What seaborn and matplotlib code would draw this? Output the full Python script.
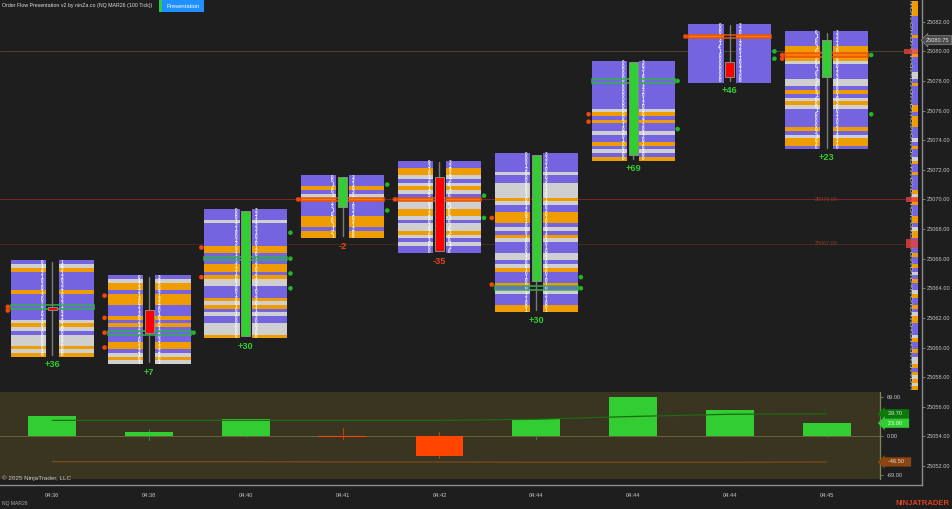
import matplotlib
matplotlib.use("Agg")
import matplotlib.pyplot as plt
from matplotlib.transforms import blended_transform_factory
import numpy as np
import pandas as pd
import seaborn as sns

# ---- data -----------------------------------------------------------------
times = ["04:36", "04:38", "04:40", "04:41", "04:42", "04:44", "04:44", "04:44", "04:45"]
delta_text = ["+36", "+7", "+30", "-2", "-35", "+30", "+69", "+46", "+23"]
delta = [36, 7, 30, -2, -35, 30, 69, 46, 23]
delta_high = [36, 12, 30, 14, 7, 30, 69, 46, 23]
delta_low = [0, -8, -1, -5, -40, -5, 0, 0, -1]

top_price = [25065.75, 25064.75, 25069.25, 25071.5, 25072.5, 25073.0, 25079.25, 25081.75, 25081.25]

# colour of every 0.25 price row from the top of each footprint: P lilac, O orange, G grey
row_kinds = [
    "PGOPPPPPOPPPPPPPGOGPGGGOGO",
    "PGOOPOOOPPPOPOPPPPOOPGOG",
    "PPPGPPPPPPOOPPPOOPOGGPPPOGOPGPPGGGO",
    "PPPOPGOPPPPOOOPOO",
    "PPOOGPGOGPOGGOOGPGGOGPGPP",
    "PPPPPGPPGGGGOGPPOOOPGPOGPPPGGPGOPPPOPGPPPOO",
    "PPPPPPPPPPPPPGOPOPPGPPOPGPO",
    "PPPOPPPPPPPPPPPP",
    "PPPPOOOOGPPPPGGPOPGOGPPPPPOPGOOP",
]
bid_digits = [
    "01221020130201021010000010",
    "012321402130212210212101",
    "00012100230211312100100100101000000",
    "00140102310201121",
    "9310120135201120010201000",
    "0001200000010012041000100001200101000121001",
    "000000000000000051030100100",
    "0000314100000000",
    "01001013001021203100010000021020",
]
ask_digits = [
    "10212032102310210100001000",
    "315041322010301203132102",
    "32112310201201210213210230110200100",
    "32103201021021200",
    "3292320120301001020100120",
    "3321010301201302010001010102100201010021001",
    "303190142012020372012010300",
    "3205132511041300",
    "33213022301231000153002102110210",
]

open_price = [25062.75, 25062.5, 25060.75, 25069.5, 25071.5, 25064.5, 25073.0, 25079.25, 25078.25]
close_price = [25062.5, 25061.0, 25069.25, 25071.5, 25066.5, 25073.0, 25079.25, 25078.25, 25080.75]
wick_high = [25065.75, 25064.75, 25069.25, 25071.5, 25072.5, 25073.0, 25079.25, 25081.75, 25081.25]
wick_low = [25059.5, 25059.0, 25060.75, 25067.5, 25066.5, 25062.5, 25072.75, 25078.0, 25073.5]

poc_price = [25062.75, 25061.0, 25066.0, 25070.0, 25070.0, 25064.0, 25078.0, 25081.0, 25079.75]
poc_bright = [False, False, False, True, True, False, False, True, True]

left_dots = [
    [25062.75, 25062.5],
    [25063.5, 25062.0, 25061.0, 25060.0],
    [25066.75, 25064.75],
    [25070.0],
    [25070.0],
    [25068.75, 25064.25],
    [25075.75, 25075.25],
    [25081.0],
    [25079.75, 25079.5],
]
right_dots = [
    [],
    [25061.0],
    [25067.75, 25066.0, 25065.0, 25064.0],
    [25071.0, 25069.25],
    [25070.25, 25068.75],
    [25064.75, 25064.0],
    [25078.0, 25074.75],
    [25080.0, 25079.5],
    [25079.75, 25075.75],
]

level_prices = [25080.0, 25070.0, 25067.0]
level_text = ["", "25070.00", "25067.00"]
level_colors = ["#4c4238", "#762a1e", "#4c2a1c"]
current_price = 25080.75

profile_kinds = ("OOOOPPPPPOPPPGOPPPPGGPOPPPPPOOPOOOPPPGPOPPGOP"
                 "POPPPPOGOOPPPOOPGOOPPPPOPPOPGPOPPGOPPOPGOOPPPGOPPOPGGOPOGOGO")
profile_digits = ("21032103120310231021302103210321023103210230132"
                  "10320132103210230123102310320132103201320130213021302130210")
profile_top = 25083.25

avg_up = [28, 28, 28, 28, 28, 30, 35, 39, 39.7]
avg_down = [-46, -46, -46, -46.5, -46.5, -47, -47, -47, -46.5]
panel_ticks = [69, 0, -69]

# ---- palette and geometry ---------------------------------------------------
BG = "#1e1e1e"
PANEL = "#393520"
KIND_COLORS = {"P": "#7464e0", "O": "#ef9c00", "G": "#cfcfcf"}
GREEN = "#32cd32"
RED = "#ff0000"
DOWN = "#ff4500"
TEXT = "#c6c6c6"

W, H = 952, 509
ROW = 0.25
PX_X = 96.8      # pixels per bar slot
PX_Y = 14.81     # pixels per point
X0, Y0 = 52.3, 51.3

sns.set_theme(style="dark", rc={
    "figure.facecolor": BG, "axes.facecolor": BG, "savefig.facecolor": BG,
    "axes.grid": False,
})
plt.rcParams["font.family"] = ["Liberation Sans", "DejaVu Sans"]

fig = plt.figure(figsize=(W / 100, H / 100), dpi=100)
FRAME_R, FRAME_B = 922, 485
ax = fig.add_axes([0, 1 - FRAME_B / H, FRAME_R / W, FRAME_B / H])
ax.set_xlim(-X0 / PX_X, (FRAME_R - X0) / PX_X)
ax.set_ylim(25080 - (FRAME_B - Y0) / PX_Y, 25080 + Y0 / PX_Y)

# price levels run behind the footprints
for price, label, col in zip(level_prices, level_text, level_colors):
    ax.plot([-X0 / PX_X, (905 - X0) / PX_X], [price, price], color=col, lw=0.7, zorder=0.5)
    if label:
        ax.text(8.0, price, label, color="#8c3a28", fontsize=3.9, ha="center", va="center", zorder=0.6)

# footprint rows, one strip on each side of the candle
INNER, OUTER = 0.066, 0.428
BOX_W = OUTER - INNER
row_frame = []
for i, kinds in enumerate(row_kinds):
    for j, k in enumerate(kinds):
        row_frame.append((i, top_price[i] - j * ROW, k))
rows = pd.DataFrame(row_frame, columns=["bar", "price", "kind"])
for kind, grp in rows.groupby("kind"):
    for side in (-OUTER, INNER):
        ax.bar(grp["bar"] + side, ROW, width=BOX_W, bottom=grp["price"] - ROW / 2, align="edge",
               color=KIND_COLORS[kind], linewidth=0, zorder=1)

# bid and ask digit columns
DIGIT_SIZE = 3.3
for i in range(len(times)):
    for j, (b, a) in enumerate(zip(bid_digits[i], ask_digits[i])):
        p = top_price[i] - j * ROW
        for off, dg in ((-0.105, b), (0.105, a)):
            ax.text(i + off, p, dg, color="#ffffff", alpha=0.95, fontsize=DIGIT_SIZE, fontweight="bold",
                    ha="center", va="center", zorder=2)

# point-of-control row outlined across the footprint
for i, (p, bright) in enumerate(zip(poc_price, poc_bright)):
    if bright:
        for side in (-OUTER, INNER):
            ax.bar(i + side, ROW, width=BOX_W, bottom=p - ROW / 2, align="edge",
                   color="#ff7a00", linewidth=0, zorder=2.5)
    ax.bar(i, ROW, width=2 * OUTER, bottom=p - ROW / 2, facecolor="none",
           edgecolor="#e8520c" if bright else "#2fb24a", linewidth=1.1, zorder=3)

# candles
for i in range(len(times)):
    up = close_price[i] >= open_price[i]
    ax.plot([i, i], [wick_low[i], wick_high[i]], color="#7a7a7a", lw=1.0, zorder=4)
    lo, hi = sorted((open_price[i], close_price[i]))
    ax.bar(i, hi - lo, width=0.095, bottom=lo, color=GREEN if up else RED,
           edgecolor="#8a8a8a", linewidth=0.7, zorder=5)

# imbalance dots on both flanks
dots = pd.DataFrame(
    [(i - 0.46, p, "left") for i, ps in enumerate(left_dots) for p in ps]
    + [(i + 0.46, p, "right") for i, ps in enumerate(right_dots) for p in ps],
    columns=["x", "price", "side"],
)
sns.scatterplot(data=dots, x="x", y="price", hue="side", palette={"left": "#f0480c", "right": "#22b42a"},
                s=11, linewidth=0, legend=False, ax=ax, zorder=6)

# delta figures under each footprint
for i, (txt, d, kinds) in enumerate(zip(delta_text, delta, row_kinds)):
    bottom = top_price[i] - (len(kinds) - 0.5) * ROW
    ax.annotate(txt, (i, bottom), xytext=(0, -5.8), textcoords="offset points", ha="center", va="center",
                color=GREEN if d > 0 else "#e6481a", fontsize=6.6, fontweight="bold", zorder=6)

# session profile beside the price scale
strip_x = (912 - X0) / PX_X
strip_w = 6 / PX_X
for j, (k, dg) in enumerate(zip(profile_kinds, profile_digits)):
    p = profile_top - j * ROW
    ax.bar(strip_x, ROW, width=strip_w, bottom=p - ROW / 2, align="edge",
           color=KIND_COLORS[k], linewidth=0, zorder=1)
    ax.text((911 - X0) / PX_X, p, dg, color="#e8e8e8", alpha=0.9, fontsize=DIGIT_SIZE, ha="center", va="center", zorder=2)

# level markers on the profile
for price, left_px, half in [(25080.0, 904, 0.17), (25070.0, 906, 0.17), (25067.0, 906, 0.3)]:
    ax.bar((left_px - X0) / PX_X, 2 * half, width=(918 - left_px) / PX_X, bottom=price - half, align="edge",
           color="#e8403c", alpha=0.8, linewidth=0, zorder=3)

# price scale
ax.yaxis.tick_right()
ax.set_yticks(np.arange(25052, 25084, 2))
ax.set_yticklabels([f"{v:.2f}" for v in np.arange(25052, 25084, 2)])
ax.set_xticks(range(len(times)))
ax.set_xticklabels(times)
ax.tick_params(axis="y", colors="#8c8c8c", labelcolor=TEXT, labelsize=4.1, length=2.2, width=0.6, pad=1.0)
ax.tick_params(axis="x", colors="#8c8c8c", labelcolor=TEXT, labelsize=4.1, length=2.2, width=0.6, pad=3.6)
ax.set_xlabel("")
ax.set_ylabel("")
for name, spine in ax.spines.items():
    spine.set_visible(name in ("right", "bottom"))
    spine.set_color("#8c8c8c")
    spine.set_linewidth(1.0)

# last-price callout
ytrans = blended_transform_factory(ax.transAxes, ax.transData)
ax.text(1.0045, current_price, "25080.75", transform=ytrans, color="#e6e6e6", fontsize=4.1, va="center",
        ha="left", zorder=8, clip_on=False,
        bbox=dict(boxstyle="larrow,pad=0.35", facecolor="#4c4c4c", edgecolor="#8a8a8a", linewidth=0.5))

# ---- delta panel ------------------------------------------------------------
PANEL_R, PANEL_T, PANEL_B = 880, 392.3, 479.3
PX_D = 0.558
pax = fig.add_axes([0, 1 - PANEL_B / H, PANEL_R / W, (PANEL_B - PANEL_T) / H], zorder=5)
pax.set_facecolor(PANEL)
pax.set_xlim(-X0 / PX_X, (PANEL_R - X0) / PX_X)
pax.set_ylim(-(PANEL_B - 436) / PX_D, (436 - PANEL_T) / PX_D)
pax.axhline(0, color="#69663e", lw=0.7, zorder=1)

slots = np.arange(len(times))
panel = pd.DataFrame({"slot": slots, "delta": delta,
                      "sign": ["up" if d > 0 else "down" for d in delta]})
sns.barplot(data=panel, x="slot", y="delta", hue="sign", palette={"up": GREEN, "down": DOWN},
            native_scale=True, dodge=False, width=0.495, legend=False, ax=pax, zorder=2,
            linewidth=0, edgecolor="none", saturation=1)
for i in slots:
    pax.plot([i, i], [delta_low[i], delta_high[i]], color="#2a8a2a" if delta[i] > 0 else "#b8400f",
             lw=0.8, zorder=1.5)
pax.set_xlim(-X0 / PX_X, (PANEL_R - X0) / PX_X)
sns.lineplot(x=slots, y=avg_up, color="#1f6a12", lw=0.9, ax=pax, zorder=3)
sns.lineplot(x=slots, y=avg_down, color="#7a4a1c", lw=0.9, ax=pax, zorder=3)

pax.set_xticks([])
pax.set_xlabel("")
pax.set_ylabel("")
pax.yaxis.tick_right()
pax.set_yticks(panel_ticks)
pax.set_yticklabels([f"{v:.2f}" for v in panel_ticks])
pax.tick_params(axis="y", colors="#8a8a60", labelcolor=TEXT, labelsize=4.1, length=2.2, width=0.6, pad=3)
for name, spine in pax.spines.items():
    spine.set_visible(name == "right")
    spine.set_color("#85835c")
    spine.set_linewidth(0.9)

ptrans = blended_transform_factory(pax.transAxes, pax.transData)
for val, col, txtcol in [(avg_up[-1], "#0b7a0b", "#d8e8d8"), (delta[-1], "#32cd32", "#eaffea"),
                         (avg_down[-1], "#8b4513", "#e8dccc")]:
    pax.text(1.0035, val, f"   {val:.2f}   ", transform=ptrans, color=txtcol, fontsize=4.1, va="center", ha="left",
             zorder=8, clip_on=False,
             bbox=dict(boxstyle="larrow,pad=0.38", facecolor=col, edgecolor="none"))

# ---- captions ---------------------------------------------------------------
def caption(x_px, y_px, s, **kw):
    fig.text(x_px / W, 1 - y_px / H, s, va="center", **kw)

caption(2, 5.5, "Order Flow Presentation v2 by ninZa.co (NQ MAR26 (100 Tick))", color="#dcdcdc", fontsize=3.75)
caption(2, 478.5, "\u00a9 2025 NinjaTrader, LLC", color="#c8c8c8", fontsize=4.5, zorder=10)
caption(2, 504, "NQ MAR26", color="#a8a8a8", fontsize=3.6)
caption(895, 503.5, "NINJATRADER", color="#d8431c", fontsize=5.5, fontweight="bold")

# indicator button in the title bar
btn = fig.add_axes([159 / W, 1 - 12 / H, 45 / W, 12 / H], zorder=6)
btn.set_xlim(0, 45)
btn.set_ylim(0, 12)
btn.axis("off")
btn.bar(24, 12, width=42, bottom=0, color="#1e90ff", linewidth=0)
btn.bar(1.5, 12, width=3, bottom=0, color="#2ecc40", linewidth=0)
btn.text(24, 5.8, "Presentation", color="white", fontsize=4.2, ha="center", va="center")

fig.savefig("out.png", dpi=100, facecolor=BG)
